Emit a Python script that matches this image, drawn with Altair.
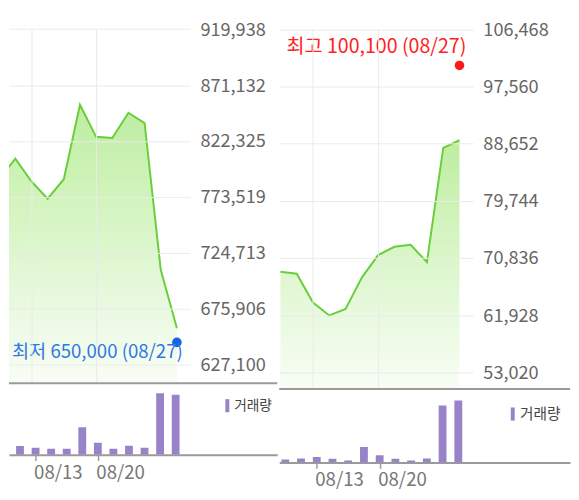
import altair as alt
import pandas as pd

# ---- data ----
dates = ['08/09', '08/10', '08/13', '08/14', '08/16', '08/17', '08/20',
         '08/21', '08/22', '08/23', '08/24', '08/27']
left_price = [789000, 807000, 787000, 772000, 789000, 854000, 826000,
              825000, 847000, 838000, 710000, 659000]
left_volume = [18200, 18100, 14300, 12100, 12200, 56800, 24500,
               12300, 18300, 14200, 127000, 124000]
right_price = [68700, 68400, 63900, 61900, 62900, 67800, 71300,
               72600, 72900, 70200, 88000, 89200]
right_volume = [310000, 420000, 590000, 410000, 210000, 1650000, 760000,
                410000, 210000, 420000, 6050000, 6570000]
left_ticks = [627100, 675906, 724713, 773519, 822325, 871132, 919938]
right_ticks = [53020, 61928, 70836, 79744, 88652, 97560, 106468]
x_tick_labels = ['08/13', '08/20']
left_marker = ['최저', 650000, '08/27']
right_marker = ['최고', 100100, '08/27']
volume_label = '거래량'

FONT = 'Noto Sans CJK KR'
GREEN = '#68cf3a'
PURPLE = '#9883c9'
GRID = '#ebebeb'
SEP = '#9a9a9a'

x_tick_values = [dates.index(t) for t in x_tick_labels]
label_expr = '[' + ','.join("'%s'" % d for d in dates) + '][datum.value]'

gradient = alt.Gradient(
    gradient='linear',
    stops=[alt.GradientStop(color='#bdeda0', offset=0),
           alt.GradientStop(color='#d3f4be', offset=0.35),
           alt.GradientStop(color='#e8f9de', offset=0.7),
           alt.GradientStop(color='#f8fdf5', offset=1)],
    x1=1, x2=1, y1=0, y2=1)


def panel(prices, volumes, ticks, marker, marker_color, text_color, text_size,
          pw, ph, vw, vh, xdom_p, xdom_v, ydom, vmax,
          mk_yoff, txt_dx, txt_dy, leg_x, leg_y, leg_font):
    df = pd.DataFrame({'i': list(range(len(dates))), 'date': dates,
                       'price': prices, 'vol': volumes,
                       'label': [volume_label] * len(dates)})
    mdf = pd.DataFrame({'i': [dates.index(marker[2])], 'price': [marker[1]],
                        'text': ['%s %s (%s)' % (marker[0], format(marker[1], ','), marker[2])]})

    xs = alt.Scale(domain=xdom_p, nice=False, zero=False)
    ys = alt.Scale(domain=ydom, nice=False, zero=False)
    x_enc = alt.X('i:Q', scale=xs,
                  axis=alt.Axis(values=x_tick_values, labels=False, ticks=False,
                                domain=False, grid=True, gridColor=GRID,
                                title=None, zindex=1))
    y_enc = alt.Y('price:Q', scale=ys,
                  axis=alt.Axis(orient='right', values=ticks, format=',d',
                                labelFontSize=18.5, labelColor='#666',
                                labelPadding=10, ticks=False, domain=False,
                                grid=True, gridColor=GRID, title=None,
                                zindex=1, labelFont=FONT))
    base = alt.Chart(df).encode(x=x_enc, y=y_enc)
    area = base.mark_area(clip=True, color=gradient, opacity=1).encode(
        y2=alt.datum(ydom[0]))
    line = base.mark_line(clip=True, color=GREEN, strokeWidth=2)
    mbase = alt.Chart(mdf).encode(x=x_enc, y=y_enc)
    dot = mbase.mark_circle(size=95, color=marker_color, opacity=1).encode(
        yOffset=alt.value(mk_yoff))
    txt = mbase.mark_text(clip=True, align='right', baseline='middle',
                          dx=txt_dx, dy=txt_dy, fontSize=text_size,
                          font=FONT, color=text_color).encode(text='text:N')
    price_chart = alt.layer(area, line, dot, txt).properties(width=pw, height=ph)

    bars = alt.Chart(df).mark_bar(size=8, clip=True).encode(
        x=alt.X('i:Q', scale=alt.Scale(domain=xdom_v, nice=False, zero=False),
                axis=alt.Axis(values=x_tick_values, labelExpr=label_expr,
                              grid=False, domain=True, domainColor=SEP,
                              domainWidth=2, ticks=True, tickColor=SEP,
                              tickSize=6, tickWidth=1.5, labelAlign='left',
                              labelOffset=-2, labelPadding=3,
                              labelFontSize=19, labelColor='#777',
                              labelFont=FONT, title=None)),
        y=alt.Y('vol:Q', scale=alt.Scale(domain=[0, vmax], nice=False), axis=None),
        color=alt.Color('label:N', scale=alt.Scale(range=[PURPLE]),
                        legend=alt.Legend(title=None, orient='none',
                                          legendX=leg_x, legendY=leg_y,
                                          symbolType='M-0.3,-1H0.3V1H-0.3Z',
                                          symbolSize=180, symbolStrokeWidth=0,
                                          symbolOpacity=1, labelFontSize=leg_font,
                                          labelColor='#444', labelFont=FONT,
                                          labelOffset=0, padding=0)))
    sep = alt.Chart(pd.DataFrame({'a': [0]})).mark_rule(
        color=SEP, strokeWidth=2).encode(
        x=alt.value(0), x2=alt.value(vw), y=alt.value(0))
    vol_chart = alt.layer(bars, sep).properties(width=vw, height=vh)

    return alt.vconcat(price_chart, vol_chart, spacing=0).resolve_scale(
        color='independent')


left = panel(left_price, left_volume, left_ticks, left_marker, '#1463e0', '#2f78e2', 19,
             185, 361, 274, 73, [0.606, 11.818], [0.606, 17.212],
             [611819, 920365], 148000, 4, 6, 14, 216, 16, 14)
right = panel(right_price, right_volume, right_ticks, right_marker, '#ff1a1a', '#ff2222', 20,
              198, 367, 297, 75, [-0.075, 11.835], [-0.075, 17.79],
              [50577, 106575], 7780000, -5, 7, -23.5, 231, 18, 15)

chart = alt.hconcat(left, right, spacing=0).resolve_scale(
    color='independent'
).properties(
    padding={'left': 0, 'top': 7, 'right': 0, 'bottom': 0}
).configure(font=FONT, background='white').configure_view(stroke=None)

chart.save('out.html', embed_options={'renderer': 'svg', 'actions': False})
